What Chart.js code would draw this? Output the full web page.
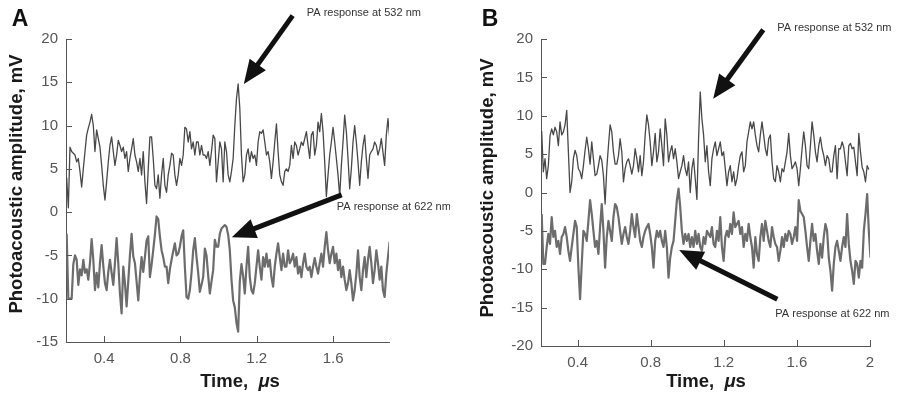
<!DOCTYPE html>
<html>
<head>
<meta charset="utf-8">
<script src="https://cdn.jsdelivr.net/npm/chart.js@4.4.1/dist/chart.umd.min.js"></script>
<style>
  html, body { margin: 0; padding: 0; background: #fff; }
  #wrap { position: relative; width: 900px; height: 395px; overflow: hidden; }
  canvas { position: absolute; top: 0; }
  #chartA { left: 0; }
  #chartB { left: 450px; }
</style>
</head>
<body>
<div id="wrap">
  <canvas id="chartA" width="450" height="395"></canvas>
  <canvas id="chartB" width="450" height="395"></canvas>
</div>
<script>
// sample timing of the recorded traces, in microseconds
const timeStartA = 0.2035;
const timeStepA = 0.008726;
const timeStartB = 0.2037;
const timeStepB = 0.009132;

// panel A, mV
const signal532A = [
  4.0, 0.5, 7.5, 7.0, 6.8, 6.6, 5.8, 6.2, 4.7, 2.9,
  5.0, 7.0, 8.9, 9.7, 10.4, 11.3, 10.0, 7.0, 9.5, 8.5,
  7.5, 5.4, 3.1, 1.4, 3.5, 5.8, 7.7, 8.7, 7.0, 5.4,
  6.6, 8.3, 7.7, 7.0, 7.5, 6.2, 7.0, 4.7, 6.2, 7.3,
  8.5, 6.6, 5.8, 4.7, 6.2, 4.3, 7.0, 3.5, 1.0, 5.0,
  8.7, 8.7, 6.2, 3.1, 2.7, 4.3, 1.6, 4.3, 6.2, 3.1,
  2.3, 4.3, 5.4, 6.8, 6.6, 4.3, 3.1, 4.3, 6.2, 5.4,
  6.6, 9.8, 9.6, 8.1, 9.3, 7.3, 8.1, 6.6, 8.1, 8.1,
  6.6, 7.7, 6.6, 6.6, 6.2, 7.0, 5.4, 7.0, 8.9, 8.5,
  3.5, 5.8, 8.1, 7.3, 3.5,
  8.1, 7.0, 4.3, 3.5, 4.7, 6.2, 10.0, 13.1, 14.8, 12.0,
  6.6, 3.5, 4.3, 6.6, 7.3, 5.8, 7.0, 6.2, 6.6, 5.4,
  8.1, 9.3, 9.1, 9.5, 8.1, 6.6, 7.0, 5.8, 3.9, 5.8,
  8.1, 10.2, 7.0, 4.3, 3.5, 3.1, 4.7, 5.0, 4.7, 5.4,
  7.7, 6.2, 8.1, 7.7, 6.6, 7.3, 8.1, 7.7, 8.5, 9.3,
  7.7, 6.2, 8.9, 9.3, 6.6, 7.7, 10.4, 9.3, 11.4, 9.3,
  5.8, 1.8, 4.3, 6.6, 8.1, 9.8, 8.1, 6.2, 4.3, 1.8,
  5.4, 8.1, 11.2, 9.3, 6.2, 2.7, 5.0, 8.1, 10.0, 8.1,
  5.8, 3.1, 5.8, 7.7, 8.9, 6.2, 3.9, 6.6, 7.0, 7.3,
  8.1, 7.7, 6.6, 7.3, 8.5, 6.9, 5.4, 8.9, 10.8, 8.7
];
const signal622A = [
  -2.5, -10.0, -10.0, -10.0, -6.0, -5.0, -5.5, -8.4, -6.6, -7.3,
  -5.5, -7.0, -6.6, -7.8, -5.9, -3.1, -5.5, -9.0, -7.0, -8.7,
  -5.9, -3.8, -6.2, -8.2, -9.0, -6.9, -5.5, -7.0, -8.4, -5.9,
  -3.0, -5.9, -9.4, -11.7, -6.3, -8.2, -10.9, -8.0, -5.0, -2.5,
  -5.1, -5.9, -8.0, -10.2, -7.4, -5.2, -6.9, -5.2, -3.3, -2.8,
  -7.5, -6.1, -4.4, -2.6, -0.5, -0.8, -2.8, -4.4, -5.2, -6.3,
  -6.3, -8.2, -6.6, -5.5, -4.5, -3.6, -5.0, -4.8, -4.0, -2.8,
  -2.1, -6.3, -9.8, -10.0, -9.0, -7.0, -4.4, -3.0, -5.2, -7.0,
  -9.2, -8.4, -7.5, -4.2, -5.0, -7.3, -9.4, -8.0, -6.7, -3.2,
  -4.0, -4.0, -2.5, -1.9, -1.7,
  -1.5, -1.7, -2.6, -4.4, -7.8, -10.2, -11.0, -12.8, -13.8, -8.0,
  -6.0, -7.4, -9.4, -6.3, -4.0, -7.5, -9.0, -9.4, -8.2, -6.3,
  -4.4, -6.3, -7.8, -5.2, -6.3, -4.8, -6.3, -5.5, -7.5, -8.6,
  -6.3, -4.8, -3.6, -5.2, -6.7, -4.8, -6.3, -6.3, -4.4, -5.9,
  -5.5, -4.8, -6.3, -5.2, -7.1, -6.3, -7.5, -5.9, -4.8, -6.3,
  -6.7, -6.3, -7.5, -6.3, -5.3, -6.3, -7.1, -5.9, -4.8, -6.3,
  -4.0, -2.3, -4.4, -5.9, -4.8, -4.0, -5.9, -4.8, -6.7, -5.5,
  -7.5, -6.3, -7.8, -9.0, -8.2, -6.7, -8.2, -10.2, -9.0, -7.1,
  -4.4, -7.5, -9.0, -6.7, -5.2, -7.5, -5.5, -4.0, -5.9, -8.2,
  -6.7, -4.4, -5.9, -7.8, -6.3, -9.0, -9.8, -7.1, -5.2, -3.4
];

// panel B, mV
const signal532B = [
  8.0, 2.7, 4.4, 1.8, 3.5, 7.4, 8.3, 7.5, 8.5, 7.9,
  6.1, 9.2, 7.5, 7.9, 8.8, 10.7, 5.3, 0.0, 1.4, 4.4,
  5.5, 4.8, 3.1, 2.7, 1.8, 3.5, 5.5, 7.2, 5.7, 3.7,
  6.6, 4.4, 2.2, 2.4, 3.5, 4.8, 4.2, 2.2, -1.5, 3.1,
  6.1, 8.8, 7.9, 5.3, 3.7, 3.7, 4.8, 7.0, 5.3, 1.4,
  3.1, 4.0, 4.4, 3.5, 2.4, 3.5, 5.7, 4.4, 2.7, 4.8,
  2.2, 4.0, 7.5, 10.1, 8.8, 6.6, 3.5, 5.3, 7.7, 4.0,
  5.3, 8.3, 6.1, 3.5, 9.6, 7.5, 4.0, 5.3, 6.1, 4.4,
  5.7, 4.0, 1.8, 2.7, 3.5, 4.8, 3.1, 2.2, 4.0, 0.0,
  3.1, 4.4, 1.8, -0.9, 7.0,
  13.1, 9.6, 7.5, 4.0, 6.1, 2.7, 0.9, 4.4, 5.7, 6.6,
  4.8, 5.7, 6.6, 4.8, 5.3, 3.1, 0.9, 2.7, 3.5, 1.4,
  2.7, 0.9, 1.8, 3.5, 4.8, 5.3, 2.7, 3.5, 6.6, 7.9,
  9.2, 8.3, 9.2, 7.5, 6.1, 5.3, 7.5, 9.2, 7.5, 5.7,
  4.8, 7.0, 7.5, 4.0, 1.8, 1.4, 3.5, 2.7, 1.4, 3.1,
  2.7, 4.0, 5.3, 7.7, 4.8, 3.1, 3.5, 4.0, 3.1, 0.9,
  3.1, 5.7, 7.9, 6.1, 3.5, 3.1, 6.1, 9.2, 7.5, 5.3,
  4.0, 6.1, 7.2, 5.7, 4.8, 3.5, 4.8, 4.4, 2.7, 2.7,
  4.8, 6.1, 1.8, 5.7, 5.7, 6.6, 5.9, 4.0, 2.2, 6.1,
  6.4, 5.7, 5.9, 4.0, 2.2, 7.7, 5.3, 3.3, 2.7, 1.4,
  3.5, 3.0
];
const signal622B = [
  -2.8, -9.3, -9.3, -7.1, -5.4, -6.7, -3.2, -5.8, -5.0, -7.1,
  -6.3, -8.0, -5.8, -5.4, -4.5, -5.8, -7.6, -8.9, -7.1, -5.4,
  -3.7, -4.5, -9.8, -13.9, -9.3, -5.0, -5.4, -6.3, -3.7, -1.0,
  -2.8, -5.0, -7.1, -6.3, -8.0, -4.5, -1.5, -5.0, -9.8, -5.8,
  -3.7, -5.0, -6.3, -3.2, -1.5, -1.9, -3.2, -5.0, -6.7, -5.4,
  -4.5, -5.8, -6.7, -5.0, -2.8, -4.5, -5.8, -2.8, -4.5, -6.3,
  -7.1, -5.8, -5.0, -4.5, -4.1, -5.4, -7.1, -9.8, -6.3, -5.0,
  -5.8, -5.0, -6.3, -7.1, -5.0, -7.1, -11.1, -8.5, -7.1, -6.3,
  -3.7, -1.0, 0.5, -1.9, -5.0, -6.7, -5.4, -6.3, -5.4, -7.1,
  -5.8, -7.1, -5.0, -6.7, -5.4,
  -7.1, -7.6, -5.8, -6.7, -5.0, -5.4, -5.8, -4.5, -6.7, -7.1,
  -5.0, -6.3, -3.2, -7.1, -8.9, -5.8, -5.0, -5.8, -4.1, -5.4,
  -2.6, -4.5, -4.1, -3.7, -5.4, -4.5, -7.1, -5.4, -6.3, -4.1,
  -5.8, -7.1, -9.8, -5.8, -8.0, -8.9, -5.8, -4.1, -6.3, -3.7,
  -5.0, -6.3, -7.1, -4.5, -5.8, -6.7, -7.1, -8.9, -7.6, -5.8,
  -7.1, -5.4, -6.3, -5.0, -5.4, -6.7, -5.8, -4.5, -6.3, -1.0,
  -2.4, -2.8, -3.2, -5.0, -7.1, -8.9, -6.3, -4.1, -6.3, -5.4,
  -7.6, -9.3, -6.7, -8.5, -5.8, -4.1, -5.0, -8.5, -10.2, -12.8,
  -9.3, -7.1, -6.3, -7.6, -8.9, -7.1, -5.8, -7.1, -2.8, -6.7,
  -8.9, -10.2, -11.9, -8.9, -9.3, -11.1, -8.9, -9.8, -5.0, -2.8,
  -0.2, -5.0, -8.5
];

const xTicksA = [0.4, 0.8, 1.2, 1.6];
const yTicksA = [-15, -10, -5, 0, 5, 10, 15, 20];
const xTicksB = [0.4, 0.8, 1.2, 1.6, 2];
const yTicksB = [-20, -15, -10, -5, 0, 5, 10, 15, 20];

// x title is written in three pieces so the mu can be italic
const xTitleParts = ['Time,  ', '\u03bc', 's'];
const yTitle = 'Photoacoustic amplitude, mV';
const label532 = 'PA response at 532 nm';
const label622 = 'PA response at 622 nm';

const FONT = "'Liberation Sans', Arial, Helvetica, sans-serif";

function toPoints(values, start, step) {
  return values.map((v, i) => ({ x: start + i * step, y: v }));
}

function drawArrow(ctx, x1, y1, x2, y2) {
  // x1,y1 tail ; x2,y2 tip
  const ang = Math.atan2(y2 - y1, x2 - x1);
  const headLen = 24, headHalf = 10;
  const bx = x2 - headLen * Math.cos(ang);
  const by = y2 - headLen * Math.sin(ang);
  ctx.strokeStyle = '#111';
  ctx.fillStyle = '#111';
  ctx.lineWidth = 5;
  ctx.lineCap = 'butt';
  ctx.beginPath();
  ctx.moveTo(x1, y1);
  ctx.lineTo(bx + 2 * Math.cos(ang), by + 2 * Math.sin(ang));
  ctx.stroke();
  ctx.beginPath();
  ctx.moveTo(x2, y2);
  ctx.lineTo(bx - headHalf * Math.sin(ang), by + headHalf * Math.cos(ang));
  ctx.lineTo(bx + headHalf * Math.sin(ang), by - headHalf * Math.cos(ang));
  ctx.closePath();
  ctx.fill();
}

function drawXTitle(ctx, cx, cy) {
  const fonts = ['bold 18.5px ' + FONT, 'italic bold 18.5px ' + FONT, 'bold 18.5px ' + FONT];
  let widths = xTitleParts.map((p, i) => { ctx.font = fonts[i]; return ctx.measureText(p).width; });
  let x = cx - widths.reduce((a, b) => a + b, 0) / 2;
  ctx.textAlign = 'left';
  xTitleParts.forEach((p, i) => {
    ctx.font = fonts[i];
    ctx.fillText(p, x, cy);
    x += widths[i];
  });
  ctx.textAlign = 'center';
}

function makeDecor(cfg) {
  return {
    id: 'decor' + cfg.letter,
    afterDraw(chart) {
      const ctx = chart.ctx;
      const area = chart.chartArea;
      const xs = chart.scales.x;
      const ys = chart.scales.y;
      ctx.save();

      // ticks pointing into the plot
      ctx.strokeStyle = '#555';
      ctx.lineWidth = 1;
      ctx.beginPath();
      ys.ticks.forEach(t => {
        const py = Math.round(ys.getPixelForValue(t.value)) + 0.5;
        ctx.moveTo(area.left, py);
        ctx.lineTo(area.left + 6, py);
      });
      xs.ticks.forEach(t => {
        const px = Math.round(xs.getPixelForValue(t.value)) + 0.5;
        ctx.moveTo(px, area.bottom);
        ctx.lineTo(px, area.bottom - 6);
      });
      ctx.stroke();

      // panel letter
      ctx.fillStyle = '#111';
      ctx.textAlign = 'center';
      ctx.textBaseline = 'middle';
      ctx.font = 'bold 23px ' + FONT;
      ctx.fillText(cfg.letter, cfg.letterPos[0], cfg.letterPos[1]);

      // axis titles
      ctx.fillStyle = '#1a1a1a';
      drawXTitle(ctx, cfg.xTitlePos[0], cfg.xTitlePos[1]);
      ctx.font = 'bold 18.5px ' + FONT;
      ctx.save();
      ctx.translate(cfg.yTitlePos[0], cfg.yTitlePos[1]);
      ctx.rotate(-Math.PI / 2);
      ctx.fillText(yTitle, 0, 0);
      ctx.restore();

      // arrows and their labels
      cfg.notes.forEach(n => {
        drawArrow(ctx,
          xs.getPixelForValue(n.tail[0]), ys.getPixelForValue(n.tail[1]),
          xs.getPixelForValue(n.tip[0]), ys.getPixelForValue(n.tip[1]));
        ctx.fillStyle = '#333';
        ctx.font = '11px ' + FONT;
        ctx.textAlign = 'left';
        ctx.textBaseline = 'middle';
        ctx.fillText(n.text, xs.getPixelForValue(n.at[0]), ys.getPixelForValue(n.at[1]));
      });
      ctx.restore();
    }
  };
}

function makeChart(id, cfg) {
  const tickFont = { family: FONT, size: 15 };
  return new Chart(document.getElementById(id), {
    type: 'line',
    data: {
      datasets: [
        { data: toPoints(cfg.top, cfg.t0, cfg.dt), borderColor: '#484848', borderWidth: 1.3 },
        { data: toPoints(cfg.bottom, cfg.t0, cfg.dt), borderColor: '#6c6c6c', borderWidth: 2.2 }
      ]
    },
    options: {
      responsive: false,
      animation: false,
      layout: { padding: { left: 0, right: cfg.padRight, top: 39, bottom: 0 } },
      elements: {
        point: { radius: 0 },
        line: { tension: 0, borderJoinStyle: 'round', fill: false }
      },
      plugins: { legend: { display: false }, tooltip: { enabled: false } },
      scales: {
        x: {
          type: 'linear',
          min: cfg.xMin,
          max: cfg.xMax,
          afterBuildTicks: s => { s.ticks = cfg.xTicks.map(v => ({ value: v })); },
          afterFit: s => { s.height = cfg.xAxisHeight; },
          grid: { display: false, drawTicks: false },
          border: { display: true, color: '#555', width: 1 },
          ticks: { padding: 8, color: '#555', font: tickFont, maxRotation: 0, autoSkip: false,
                   callback: v => String(v) }
        },
        y: {
          type: 'linear',
          min: cfg.yMin,
          max: cfg.yMax,
          afterBuildTicks: s => { s.ticks = cfg.yTicks.map(v => ({ value: v })); },
          afterFit: s => { s.width = cfg.yAxisWidth; },
          grid: { display: false, drawTicks: false },
          border: { display: true, color: '#555', width: 1 },
          ticks: { padding: 8, color: '#555', font: tickFont, autoSkip: false,
                   callback: v => String(v) }
        }
      }
    },
    plugins: [makeDecor(cfg)]
  });
}

makeChart('chartA', {
  letter: 'A',
  top: signal532A, bottom: signal622A,
  t0: timeStartA, dt: timeStepA,
  xMin: 0.2, xMax: 1.893, yMin: -15, yMax: 20,
  xTicks: xTicksA, yTicks: yTicksA,
  yAxisWidth: 66, xAxisHeight: 53, padRight: 61,
  letterPos: [20, 20], xTitlePos: [240, 382], yTitlePos: [17, 184],
  notes: [
    { tip: [1.132, 14.8], tail: [1.388, 22.7], at: [1.462, 23.0], text: label532 },
    { tip: [1.069, -2.9], tail: [1.645, 2.0], at: [1.619, 0.6], text: label622 }
  ]
});

makeChart('chartB', {
  letter: 'B',
  top: signal532B, bottom: signal622B,
  t0: timeStartB, dt: timeStepB,
  xMin: 0.2, xMax: 2, yMin: -20, yMax: 20,
  xTicks: xTicksB, yTicks: yTicksB,
  yAxisWidth: 91, xAxisHeight: 49, padRight: 30,
  letterPos: [40, 20], xTitlePos: [256, 382], yTitlePos: [38, 188],
  notes: [
    { tip: [1.142, 12.2], tail: [1.416, 21.2], at: [1.493, 21.4], text: label532 },
    { tip: [0.956, -7.5], tail: [1.493, -13.9], at: [1.482, -15.8], text: label622 }
  ]
});
</script>
</body>
</html>
